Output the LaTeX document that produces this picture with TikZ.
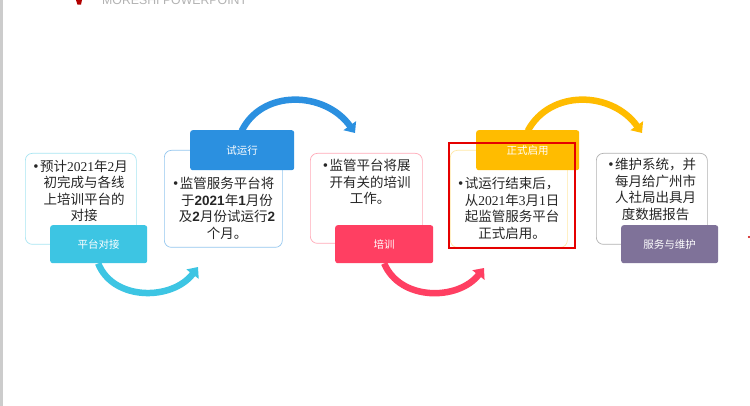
\documentclass[tikz,border=0pt]{standalone}
\usepackage{fontspec}
\setmainfont{Noto Sans CJK SC}
\newfontfamily\latinserif{Liberation Serif}
\newfontfamily\latinbold{Liberation Sans}[BoldFont=* Bold]
\newfontfamily\titlefont{Liberation Sans}
\newcommand{\sd}[1]{{\latinserif #1}}
\newcommand{\bd}[1]{{\latinbold\bfseries #1}}
\newcommand{\bul}{\llap{{\latinserif\fontsize{15}{15}\selectfont •}\hspace{1.5pt}}}
\usetikzlibrary{arrows.meta}
\definecolor{cA}{HTML}{3DC5E3}
\definecolor{cB}{HTML}{2B90E0}
\definecolor{cC}{HTML}{FF3F62}
\definecolor{cD}{HTML}{FFBC00}
\definecolor{cE}{HTML}{7F7299}
\tikzset{
  bodybox/.style={draw=#1,fill=white,line width=0.7pt,rounded corners=7pt,anchor=north west,inner sep=0pt},
  tagbox/.style={fill=#1,rounded corners=2.5pt,anchor=north west,inner sep=0pt,text=white,font=\fontsize{10.5}{12}\selectfont},
  bodytext/.style={anchor=north,align=center,inner sep=0pt,text=black!85,font=\fontsize{13.5}{16.6}\selectfont},
  flow/.style={draw=#1,line width=6.5pt,-{Triangle[length=9pt,width=15pt,fill=#1]}},
}
\begin{document}
\begin{tikzpicture}[x=1pt,y=-1pt]
\useasboundingbox (0,0) rectangle (750,406);
\fill[white] (0,0) rectangle (750,406);
\fill[black!20] (0,0) rectangle (2.5,406);
\fill[red!70!black] (76,0) -- (82,0) -- (81,4.6) -- (77.5,4.6) -- cycle;
\node[anchor=base west,inner sep=0pt,text=black!30,font=\titlefont\fontsize{12.3}{14}\selectfont] (title) at (102,5) {MORESHI POWERPOINT};
\fill[red!80!black] (749,237) circle (1.2);

% bodies
\node[bodybox=cA!45,minimum width=111pt,minimum height=91pt] (b1) at (25,153) {};
\node[bodybox=cB!50,minimum width=118pt,minimum height=97pt] (b2) at (164,150) {};
\node[bodybox=cC!45,minimum width=112pt,minimum height=90pt] (b3) at (310,153) {};
\node[bodybox=cD!35,minimum width=117pt,minimum height=97pt] (b4) at (450,150) {};
\node[bodybox=black!30,minimum width=111pt,minimum height=91pt] (b5) at (596,153) {};

% body texts
\node[bodytext] (t1) at (84,159.5) {\bul 预计\sd{2021}年\sd{2}月\\初完成与各线\\上培训平台的\\对接};
\node[bodytext] (t2) at (227,177) {\bul 监管服务平台将\\于\bd{2021}年\bd{1}月份\\及\bd{2}月份试运行\bd{2}\\个月。};
\node[bodytext] (t3) at (370,159) {\bul 监管平台将展\\开有关的培训\\工作。};
\node[bodytext] (t4) at (512,177) {\bul 试运行结束后，\\从\sd{2021}年\sd{3}月\sd{1}日\\起监管服务平台\\正式启用。};
\node[bodytext] (t5) at (655.5,158) {\bul 维护系统，并\\每月给广州市\\人社局出具月\\度数据报告};

% connectors
\coordinate (e1) at (198,267);
\coordinate (e2) at (355,133);
\coordinate (e3) at (484,268);
\coordinate (e4) at (642,133);

\node[tagbox=cA,minimum width=97pt,minimum height=38pt] (l1) at (50,225) {平台对接};
\node[tagbox=cB,minimum width=104pt,minimum height=40pt] (l2) at (190,130) {试运行};
\node[tagbox=cC,minimum width=98pt,minimum height=38pt] (l3) at (335,225) {培训};
\node[tagbox=cD,minimum width=103pt,minimum height=40pt] (l4) at (476,130) {正式启用};
\node[tagbox=cE,minimum width=97pt,minimum height=38pt] (l5) at (621,225) {服务与维护};

\draw[flow=cA] ([xshift=-0.5pt]l1.south) .. controls (113,301) and (172,301) .. (e1);
\draw[flow=cB] ([xshift=-0.5pt,yshift=-1pt]l2.north) .. controls (262,89) and (325,91) .. (e2);
\draw[flow=cC] (l3.south) .. controls (400,301) and (458,301) .. (e3);
\draw[flow=cD] ([yshift=-1pt]l4.north) .. controls (550,89) and (612,91) .. (e4);

\draw[red!90!black,line width=1.2pt] (449,143) rectangle (575,248);
\end{tikzpicture}
\end{document}
